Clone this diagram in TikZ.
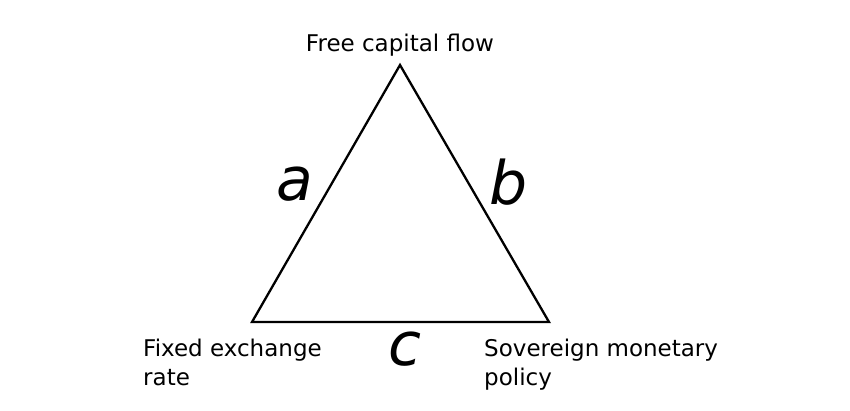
\documentclass[tikz,border=0pt]{standalone}
\usepackage{fontspec}
\setmainfont{DejaVu Sans}
\begin{document}
\begin{tikzpicture}[x=1pt,y=-1pt,
  edge/.style={line width=2.3pt, line join=miter},
  vlabel/.style={font=\fontsize{23}{29}\selectfont, inner sep=0pt, align=left},
  slabel/.style={font=\fontsize{60}{60}\selectfont\itshape, inner sep=0pt}]
\useasboundingbox (0,0) rectangle (850,410);
\coordinate (T) at (400,65);
\coordinate (L) at (252,322);
\coordinate (R) at (549,322);
\draw[edge] (T) -- (L) -- (R) -- cycle;
\node[vlabel, anchor=base] (top) at (400,51) {Free capital flow};
\node[vlabel, anchor=north west] (left) at (143,339) {Fixed exchange\\rate};
\node[vlabel, anchor=north west] (right) at (484,339) {Sovereign monetary\\policy};
\node[slabel, anchor=base] (a) at (295,200) {a};
\node[slabel, anchor=base] (b) at (509,204) {b};
\node[slabel, anchor=base] (c) at (405,365) {c};
\end{tikzpicture}
\end{document}
